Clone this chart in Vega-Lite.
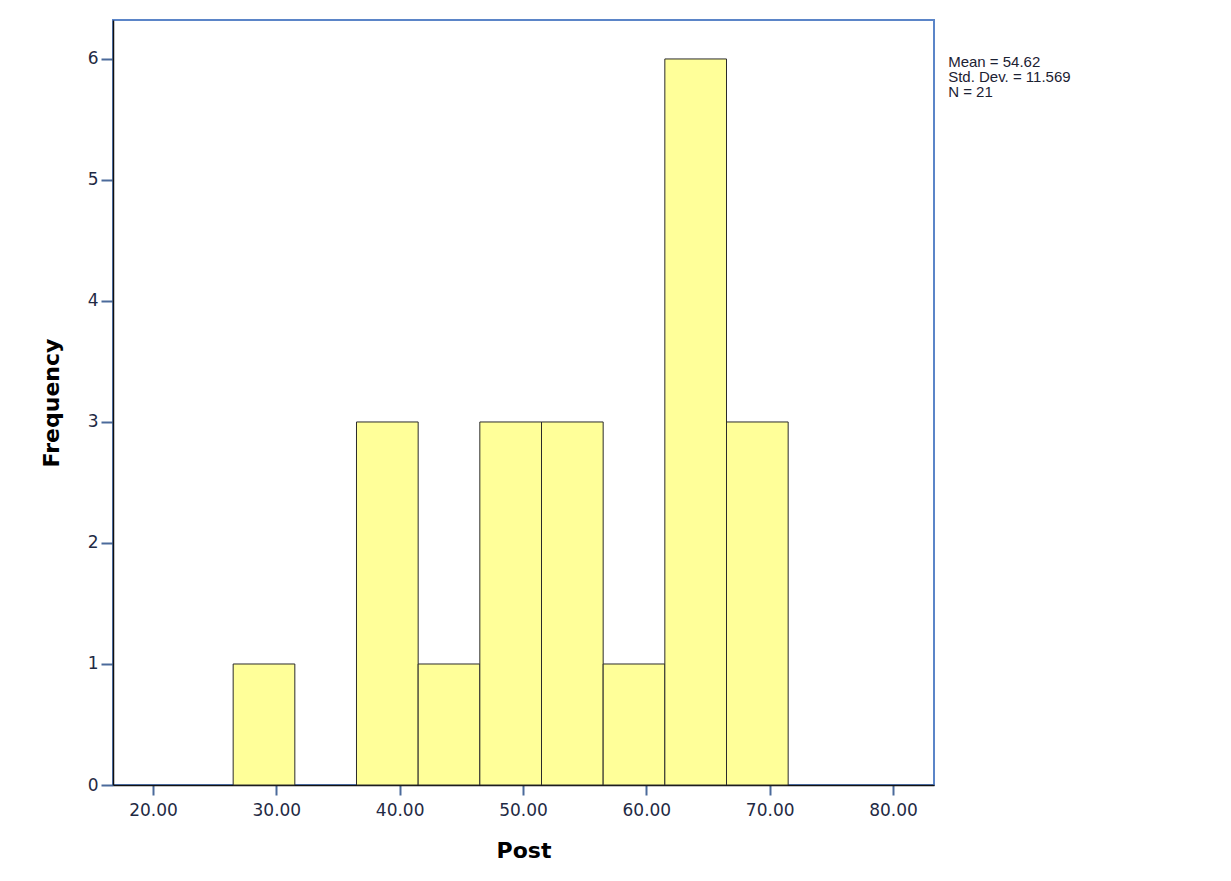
{
  "$schema": "https://vega.github.io/schema/vega-lite/v6.json",
  "width": 821,
  "height": 765,
  "autosize": "none",
  "padding": {"left": 113, "top": 20, "right": 297, "bottom": 96},
  "background": "white",
  "config": {
    "view": {"stroke": "#5b85c8", "strokeWidth": 2}
  },
  "data": {
    "values": [
      {"bin_start": 26.5, "bin_end": 31.5, "count": 1},
      {"bin_start": 36.5, "bin_end": 41.5, "count": 3},
      {"bin_start": 41.5, "bin_end": 46.5, "count": 1},
      {"bin_start": 46.5, "bin_end": 51.5, "count": 3},
      {"bin_start": 51.5, "bin_end": 56.5, "count": 3},
      {"bin_start": 56.5, "bin_end": 61.5, "count": 1},
      {"bin_start": 61.5, "bin_end": 66.5, "count": 6},
      {"bin_start": 66.5, "bin_end": 71.5, "count": 3}
    ]
  },
  "layer": [
    {
      "mark": {"type": "rect", "fill": "#ffff99", "stroke": "#2b2b2b", "strokeWidth": 1},
      "encoding": {
        "x": {
          "field": "bin_start",
          "type": "quantitative",
          "title": "Post",
          "scale": {"domain": [16.757, 83.324], "nice": false, "zero": false},
          "axis": {
            "values": [20, 30, 40, 50, 60, 70, 80],
            "format": ".2f",
            "grid": false,
            "domainColor": "#111111",
            "domainWidth": 1.5,
            "tickColor": "#4b6a9b",
            "tickWidth": 2,
            "tickSize": 10,
            "labelFont": "DejaVu Sans",
            "labelFontSize": 17,
            "labelColor": "#1f2a44",
            "labelPadding": 7,
            "titleFont": "DejaVu Sans",
            "titleFontWeight": "bold",
            "titleFontSize": 22,
            "titleColor": "#000000",
            "titlePadding": 22
          }
        },
        "x2": {"field": "bin_end"},
        "y": {
          "field": "count",
          "type": "quantitative",
          "title": "Frequency",
          "scale": {"domain": [0, 6.322], "nice": false},
          "axis": {
            "values": [0, 1, 2, 3, 4, 5, 6],
            "format": "d",
            "grid": false,
            "domainColor": "#111111",
            "domainWidth": 1.5,
            "tickColor": "#4b6a9b",
            "tickWidth": 2,
            "tickSize": 12,
            "labelFont": "DejaVu Sans",
            "labelFontSize": 17,
            "labelColor": "#1f2a44",
            "labelPadding": 3,
            "titleFont": "DejaVu Sans",
            "titleFontWeight": "bold",
            "titleFontSize": 22,
            "titleColor": "#000000",
            "titlePadding": 24
          }
        }
      }
    },
    {
      "data": {
        "values": [
          {"px": 84.47, "py": 6.03, "label": ["Mean = 54.62", "Std. Dev. = 11.569", "N = 21"]}
        ]
      },
      "mark": {
        "type": "text",
        "align": "left",
        "baseline": "top",
        "font": "Liberation Sans",
        "fontSize": 15,
        "lineHeight": 15,
        "color": "#1c2233",
        "clip": false
      },
      "encoding": {
        "x": {"field": "px", "type": "quantitative"},
        "y": {"field": "py", "type": "quantitative"},
        "text": {"field": "label"}
      }
    }
  ]
}
